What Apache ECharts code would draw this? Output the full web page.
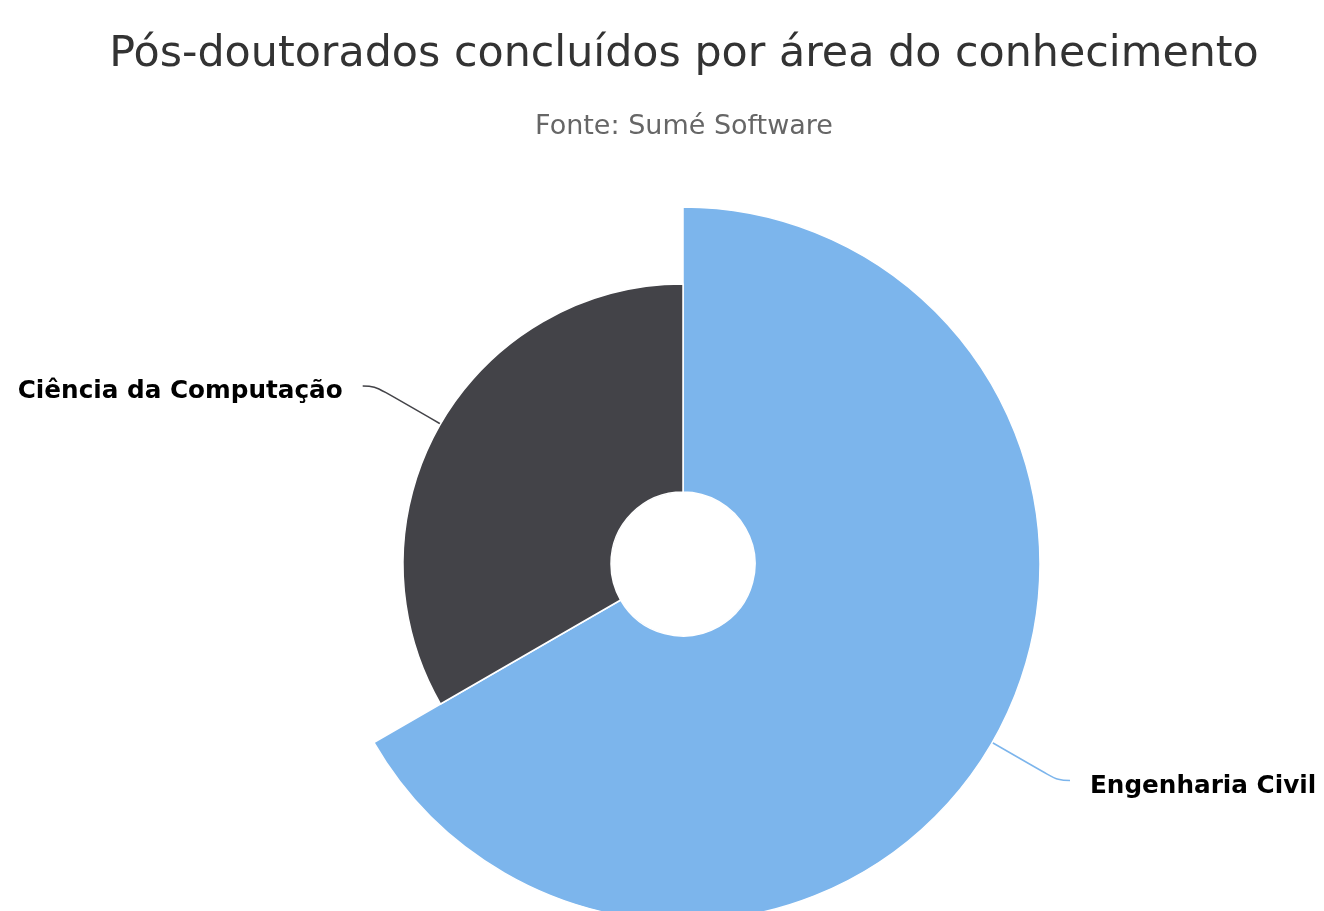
<!DOCTYPE html>
<html>
<head>
<meta charset="utf-8">
<title>Pós-doutorados concluídos por área do conhecimento</title>
<script src="https://cdn.jsdelivr.net/npm/echarts@6/dist/echarts.min.js"></script>
<style>
    html, body { margin: 0; padding: 0; background: #fff; }
    #chart { width: 1324px; height: 911px; }
</style>
</head>
<body>
<div id="chart"></div>
<script>
    var categories = ['Engenharia Civil', 'Ciência da Computação'];
    var values = [2, 1];
    var colors = ['#7cb5ec', '#434348'];
    // outer radius of each slice (variable pie)
    var outerRadius = [357, 280];

    var chart = echarts.init(document.getElementById('chart'));

    // one series per slice: each draws every value so the angles stay shared,
    // but only its own slice is visible
    var series = categories.map(function(name, k) {
        return {
            type: 'pie',
            center: [683, 564],
            radius: [72, outerRadius[k]],
            startAngle: 90,
            clockwise: true,
            silent: true,
            animation: false,
            z: 2 + k,
            data: categories.map(function(c, i) {
                var own = i === k;
                return {
                    name: c,
                    value: values[i],
                    itemStyle: own ? {
                        color: colors[i],
                        borderColor: '#ffffff',
                        borderWidth: 1.5
                    } : {
                        color: 'rgba(0,0,0,0)',
                        borderWidth: 0
                    },
                    label: { show: own },
                    labelLine: { show: own }
                };
            }),
            label: {
                // empty first line pushes the name a little below the line end
                formatter: '{gap|}\n{b}',
                color: '#000',
                fontFamily: 'DejaVu Sans',
                fontWeight: 'bold',
                fontSize: 24.7,
                lineHeight: 30,
                overflow: 'none',
                edgeDistance: 0,
                distanceToLabelLine: 20,
                rich: {
                    gap: { height: 12, lineHeight: 12, fontSize: 1 }
                }
            },
            labelLine: {
                length: 76,
                length2: 12,
                smooth: 0.4,
                lineStyle: { color: colors[k], width: 1.5 }
            }
        };
    });

    chart.setOption({
        backgroundColor: '#ffffff',
        title: {
            text: 'Pós-doutorados concluídos por área do conhecimento',
            subtext: 'Fonte: Sumé Software',
            left: 679,
            textAlign: 'center',
            top: 28,
            itemGap: 37,
            textStyle: {
                fontFamily: 'DejaVu Sans',
                fontWeight: 'normal',
                fontSize: 42.8,
                color: '#333333'
            },
            subtextStyle: {
                fontFamily: 'DejaVu Sans',
                fontSize: 27,
                color: '#666666'
            }
        },
        series: series
    });
</script>
</body>
</html>
